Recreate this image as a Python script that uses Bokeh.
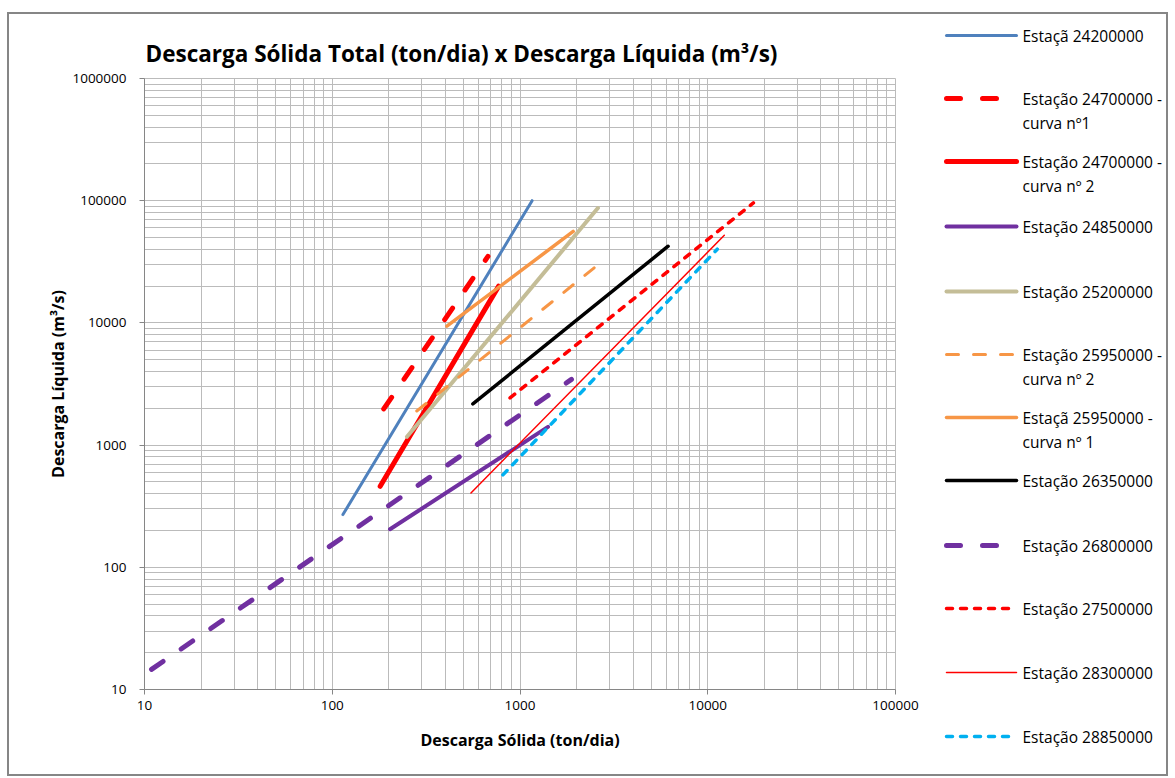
from bokeh.plotting import figure
from bokeh.layouts import row, column
from bokeh.models import FixedTicker, NumeralTickFormatter, Range1d
from bokeh.core.properties import value
from bokeh.embed import file_html
from bokeh.resources import INLINE

# ---------------- data ----------------
x_ticks = [10, 100, 1000, 10000, 100000]
y_ticks = [10, 100, 1000, 10000, 100000, 1000000]

est_24200000_x = [114, 1160]
est_24200000_y = [270, 100000]
est_24700000_c1_x = [188, 675]
est_24700000_c1_y = [1980, 35000]
est_24700000_c2_x = [180, 770]
est_24700000_c2_y = [460, 20000]
est_24850000_x = [203, 1410]
est_24850000_y = [205, 1410]
est_25200000_x = [250, 2600]
est_25200000_y = [1170, 87000]
est_25950000_c2_x = [282, 2510]
est_25950000_c2_y = [1900, 28600]
est_25950000_c1_x = [408, 1920]
est_25950000_c1_y = [9400, 56000]
est_26350000_x = [561, 6150]
est_26350000_y = [2170, 42400]
est_26800000_x = [10.9, 1880]
est_26800000_y = [14.6, 3450]
est_27500000_x = [885, 17500]
est_27500000_y = [2430, 96000]
est_28300000_x = [548, 12250]
est_28300000_y = [406, 52100]
est_28850000_x = [811, 11240]
est_28850000_y = [571, 40100]

labels_line1 = ["Estaçã 24200000", "Estação 24700000 -", "Estação 24700000 -", "Estação 24850000",
                "Estação 25200000", "Estação 25950000 -", "Estaçã 25950000 -", "Estação 26350000",
                "Estação 26800000", "Estação 27500000", "Estação 28300000", "Estação 28850000"]
labels_line2 = ["", "curva nº1", "curva nº 2", "", "", "curva nº 2", "curva nº 1", "", "", "", "", ""]

# ---------------- styles ----------------
styles = [
    dict(color="#4F81BD", width=3, dash="solid"),
    dict(color="#FF0000", width=5, dash="14 22"),
    dict(color="#FF0000", width=5, dash="solid"),
    dict(color="#7030A0", width=4, dash="solid"),
    dict(color="#C4BD97", width=4, dash="solid"),
    dict(color="#F79646", width=3, dash="12 15"),
    dict(color="#F79646", width=3.5, dash="solid"),
    dict(color="#000000", width=3.5, dash="solid"),
    dict(color="#7030A0", width=5, dash="14 22"),
    dict(color="#FF0000", width=3.5, dash="6 8"),
    dict(color="#FF0000", width=1.5, dash="solid"),
    dict(color="#00B0F0", width=3.5, dash="6 8"),
]
series = [
    (est_24200000_x, est_24200000_y), (est_24700000_c1_x, est_24700000_c1_y),
    (est_24700000_c2_x, est_24700000_c2_y), (est_24850000_x, est_24850000_y),
    (est_25200000_x, est_25200000_y), (est_25950000_c2_x, est_25950000_c2_y),
    (est_25950000_c1_x, est_25950000_c1_y), (est_26350000_x, est_26350000_y),
    (est_26800000_x, est_26800000_y), (est_27500000_x, est_27500000_y),
    (est_28300000_x, est_28300000_y), (est_28850000_x, est_28850000_y),
]

# page geometry (pixels)
OX, OY = 9, 14            # chart box origin on page (inside the 2px border)
TOT_W, TOT_H = 1157, 760  # chart box size
FL, FR, FT, FB = 144, 895, 78, 689   # plot frame on page
SPLIT = 925               # where the legend panel starts

FONT = "Open Sans"
GRID = "#BBBBBB"
AXIS = "#868686"

main_w = SPLIT - OX
p = figure(width=main_w, height=TOT_H, x_axis_type="log", y_axis_type="log",
           x_range=Range1d(10, 100000), y_range=Range1d(10, 1000000),
           output_backend="svg", toolbar_location=None,
           min_border_left=FL - OX, min_border_right=main_w - (FR - OX),
           min_border_top=FT - OY, min_border_bottom=TOT_H - (FB - OY),
           title="Descarga Sólida Total (ton/dia) x Descarga Líquida (m³/s)")

p.title.text_font = FONT
p.title.text_font_size = "22.5px"
p.title.text_font_style = "bold"
p.title.text_color = "black"
p.title.align = "left"
p.title.offset = 1
p.title.standoff = 19

p.outline_line_color = GRID
p.background_fill_color = "white"
p.border_fill_color = "white"

x_minor = [m * 10 ** k for k in range(1, 5) for m in range(2, 10)]
y_minor = [m * 10 ** k for k in range(1, 6) for m in range(2, 10)]
p.xaxis.ticker = FixedTicker(ticks=x_ticks, minor_ticks=x_minor)
p.yaxis.ticker = FixedTicker(ticks=y_ticks, minor_ticks=y_minor)
for ax in (p.xaxis, p.yaxis):
    ax.formatter = NumeralTickFormatter(format="0")
    ax.axis_line_color = AXIS
    ax.major_tick_line_color = AXIS
    ax.major_tick_out = 5
    ax.major_tick_in = 0
    ax.minor_tick_out = 0
    ax.minor_tick_in = 0
    ax.major_label_text_font = FONT
    ax.major_label_text_font_size = "13.5px"
    ax.major_label_text_color = "black"
    ax.axis_label_text_font = FONT
    ax.axis_label_text_font_size = "16px"
    ax.axis_label_text_font_style = "bold"
    ax.axis_label_text_color = "black"

p.xaxis.axis_label = "Descarga Sólida (ton/dia)"
p.yaxis.axis_label = "Descarga Líquida (m³/s)"
p.xaxis.major_label_standoff = 6
p.yaxis.major_label_standoff = 13
p.xaxis.axis_label_standoff = 16
p.yaxis.axis_label_standoff = 0

for g in (p.xgrid, p.ygrid):
    g.grid_line_color = GRID
    g.minor_grid_line_color = GRID
    g.grid_line_width = 1
    g.minor_grid_line_width = 1

for (xs, ys), st in zip(series, styles):
    p.line(xs, ys, line_color=st["color"], line_width=st["width"], line_dash=st["dash"],
           line_cap="round")

# ---------------- legend panel (separate figure in page-pixel coordinates) ----------------
leg_w = TOT_W - main_w
leg = figure(width=leg_w, height=TOT_H, x_range=Range1d(SPLIT, OX + TOT_W),
             y_range=Range1d(OY + TOT_H, OY), output_backend="svg", toolbar_location=None,
             x_axis_location=None, y_axis_location=None,
             min_border_left=0, min_border_right=0, min_border_top=0, min_border_bottom=0)
leg.grid.visible = False
leg.outline_line_color = None
leg.background_fill_color = "white"
leg.border_fill_color = "white"

leg_y = [35, 98, 161, 226, 291, 354, 417, 480, 545, 608, 672, 736]
gx0, gx1, tx = 946, 1016, 1022
for i, st in enumerate(styles):
    leg.line([gx0, gx1], [leg_y[i], leg_y[i]], line_color=st["color"], line_width=st["width"],
             line_dash=st["dash"], line_cap="round")
tx_list, ty_list, tt_list = [], [], []
for i in range(len(labels_line1)):
    tx_list.append(tx)
    ty_list.append(leg_y[i])
    tt_list.append(labels_line1[i])
    if labels_line2[i]:
        tx_list.append(tx)
        ty_list.append(leg_y[i] + 24)
        tt_list.append(labels_line2[i])
leg.text(x=tx_list, y=ty_list, text=tt_list, text_font=value(FONT), text_font_size=value("15.5px"),
         text_baseline=value("middle"), text_align=value("left"), text_color="black")

layout = row(p, column(leg), margin=(OY, 0, 0, OX),
             styles={"box-shadow": "0 0 0 2px #868686"})

open("out.html", "w").write(file_html(layout, INLINE))
